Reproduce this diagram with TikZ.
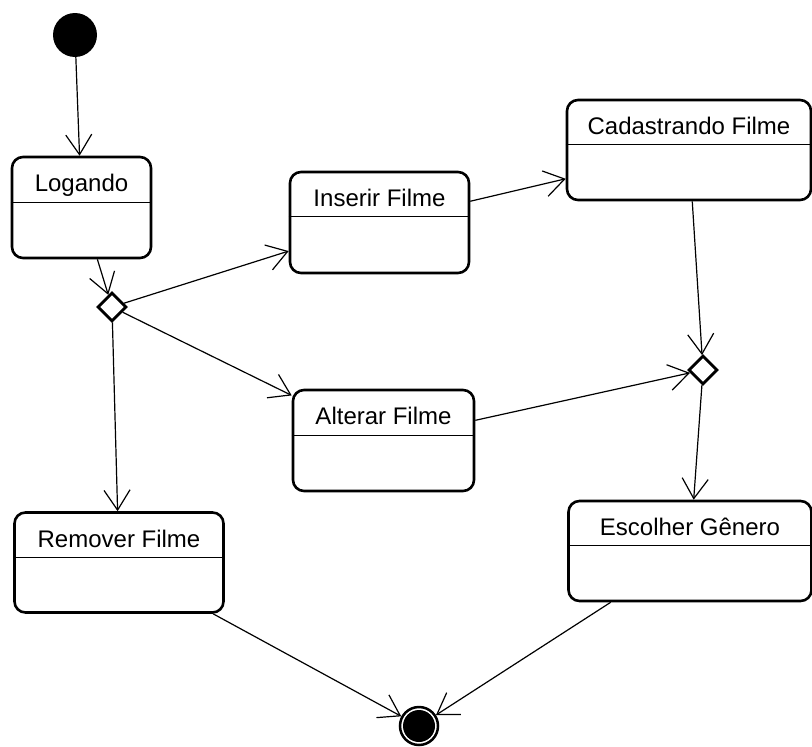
\documentclass[tikz,border=0pt]{standalone}
\usepackage{fontspec}
\setmainfont{Liberation Sans}
\usetikzlibrary{arrows.meta,shapes.geometric,calc}
\begin{document}
\begin{tikzpicture}[x=1pt,y=-1pt,
  state/.style={draw, line width=2.6pt, rounded corners=11pt, inner sep=0pt, fill=white},
  stname/.style={font=\fontsize{24}{28}\selectfont, inner sep=0pt, anchor=base},
  divider/.style={line width=1.3pt},
  choice/.style={draw, diamond, fill=white, line width=2.8pt, minimum size=29pt, inner sep=0pt},
  flow/.style={line width=1.2pt, -{Straight Barb[length=20pt,width=26pt,line width=1.2pt]}}
]
\useasboundingbox (0,0) rectangle (812,747);

% initial and final pseudo-states
\node[circle, fill=black, minimum size=44pt, inner sep=0pt] (start) at (75,35) {};
\node[circle, draw, line width=2.5pt, fill=white, minimum size=38pt, inner sep=0pt] (finish) at (419,726) {};
\node[circle, fill=black, minimum size=32pt, inner sep=0pt] (finishDot) at (finish) {};

% states: box, header divider and name
\node[state, minimum width=139pt, minimum height=101pt] (log) at (81.5,207.5) {};
\draw[divider] ($(log.north west)+(0,47)$) -- ($(log.north east)+(0,47)$);
\node[stname] (logT) at ($(log.north)+(0,36)$) {Logando};

\node[state, minimum width=179pt, minimum height=101pt] (ins) at (379.5,222.5) {};
\draw[divider] ($(ins.north west)+(0,46)$) -- ($(ins.north east)+(0,46)$);
\node[stname] (insT) at ($(ins.north)+(0,36)$) {Inserir Filme};

\node[state, minimum width=244pt, minimum height=100pt] (cad) at (689,150) {};
\draw[divider] ($(cad.north west)+(0,46)$) -- ($(cad.north east)+(0,46)$);
\node[stname] (cadT) at ($(cad.north)+(0,36)$) {Cadastrando Filme};

\node[state, minimum width=181pt, minimum height=101pt] (alt) at (383.5,440.5) {};
\draw[divider] ($(alt.north west)+(0,47)$) -- ($(alt.north east)+(0,47)$);
\node[stname] (altT) at ($(alt.north)+(0,36)$) {Alterar Filme};

\node[state, minimum width=209pt, minimum height=100pt] (rem) at (119,562.5) {};
\draw[divider] ($(rem.north west)+(0,46)$) -- ($(rem.north east)+(0,46)$);
\node[stname] (remT) at ($(rem.north)+(0,36)$) {Remover Filme};

\node[state, minimum width=243pt, minimum height=100pt] (esc) at (690,551) {};
\draw[divider] ($(esc.north west)+(0,46)$) -- ($(esc.north east)+(0,46)$);
\node[stname] (escT) at ($(esc.north)+(0,36)$) {Escolher Gênero};

% decision / merge points
\node[choice] (d1) at (112,307) {};
\node[choice] (d2) at (703,370) {};

% transitions
\draw[flow] (start) -- (log);
\draw[flow] (log) -- (d1);
\draw[flow] (d1) -- (ins);
\draw[flow] (d1) -- (alt);
\draw[flow] (d1) -- (rem);
\draw[flow] (ins) -- (cad);
\draw[flow] (cad) -- (d2);
\draw[flow] (alt) -- (d2);
\draw[flow] (d2) -- (esc);
\draw[flow] (rem) -- (finish);
\draw[flow] (esc) -- (finish);
\end{tikzpicture}
\end{document}
